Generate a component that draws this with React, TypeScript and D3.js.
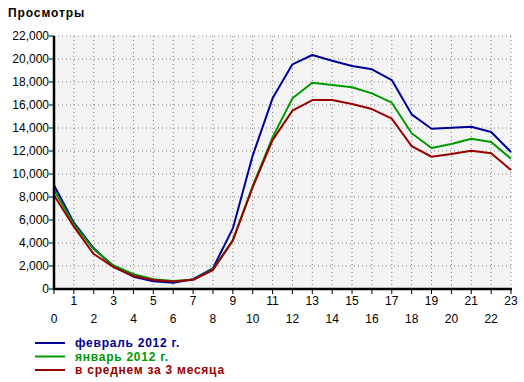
import React from "react";
import * as d3 from "d3";

const hours = d3.range(0, 24);
const febValues = [9020, 5770, 3540, 1950, 1070, 670, 550, 850, 1800, 5270, 11600, 16580, 19540, 20350, 19850, 19390, 19100, 18170, 15190, 13940, 14030, 14110, 13650, 11910];
const janValues = [8610, 5620, 3450, 2050, 1280, 840, 700, 800, 1710, 4260, 8950, 13190, 16580, 17940, 17740, 17540, 17010, 16200, 13540, 12260, 12610, 13070, 12780, 11330];
const avgValues = [8150, 5420, 3040, 1900, 1130, 780, 650, 800, 1650, 4200, 8850, 12950, 15510, 16430, 16430, 16090, 15650, 14810, 12430, 11500, 11740, 12030, 11800, 10350];
const yTicks = d3.range(0, 22001, 2000);
const seriesNames = ["февраль 2012 г.", "январь 2012 г.", "в среднем за 3 месяца"];
const seriesColors = ["#000099", "#009900", "#990000"];

export default function App() {
  const W = 524, H = 382;
  const left = 54, right = 511, top = 36, bottom = 289;
  const x = d3.scaleLinear().domain([0, 23]).range([left, right]);
  const y = d3.scaleLinear().domain([0, 22000]).range([bottom, top]);
  const line = d3.line<number>().x((_, i) => x(hours[i])).y((d) => y(d));
  const series = [febValues, janValues, avgValues];
  const fmt = d3.format(",");
  return (
    <svg width={W} height={H} style={{ position: "absolute", left: 0, top: 0, background: "#fff" }} fontFamily="'Liberation Sans', Arial, sans-serif">
      <text x={8} y={17} fontSize={12} fontWeight="bold" fill="#000" letterSpacing={0.9}>Просмотры</text>
      <rect x={left} y={top} width={right - left} height={bottom - top} fill="#f4f4f4" />
      {yTicks.filter((t) => t > 0).map((t) => (
        <line key={"gy" + t} x1={left} x2={right} y1={y(t)} y2={y(t)} stroke="#808080" strokeDasharray="1,3" />
      ))}
      {hours.filter((h) => h > 0).map((h) => (
        <line key={"gx" + h} x1={x(h)} x2={x(h)} y1={top} y2={bottom} stroke="#808080" strokeDasharray="1,3" />
      ))}
      {series.map((s, i) => (
        <path key={"s" + i} d={line(s) || ""} fill="none" stroke={seriesColors[i]} strokeWidth={2} strokeLinejoin="round" />
      ))}
      {yTicks.map((t) => (
        <g key={"yt" + t}>
          <line x1={left - 5} x2={left} y1={y(t)} y2={y(t)} stroke="#000" strokeWidth={1} />
          <text x={left - 5} y={y(t) + 4} fontSize={12} textAnchor="end" fill="#000">{fmt(t)}</text>
        </g>
      ))}
      {hours.map((h) => (
        <g key={"xt" + h}>
          <line x1={x(h)} x2={x(h)} y1={bottom} y2={bottom + 5} stroke="#000" strokeWidth={1} />
          <text x={x(h)} y={h % 2 === 1 ? bottom + 16 : bottom + 34} fontSize={12} textAnchor="middle" fill="#000">{h}</text>
        </g>
      ))}
      <line x1={left} x2={left} y1={top} y2={bottom + 1} stroke="#000" strokeWidth={2.5} />
      <line x1={left - 1} x2={right + 1} y1={bottom} y2={bottom} stroke="#000" strokeWidth={2.5} />
      {seriesNames.map((n, i) => (
        <g key={"lg" + i}>
          <line x1={35} x2={65} y1={343 + i * 13.5} y2={343 + i * 13.5} stroke={seriesColors[i]} strokeWidth={2} />
          <text x={75} y={347 + i * 13.5} fontSize={12} fontWeight="bold" fill={seriesColors[i]} letterSpacing={0.75}>{n}</text>
        </g>
      ))}
    </svg>
  );
}
